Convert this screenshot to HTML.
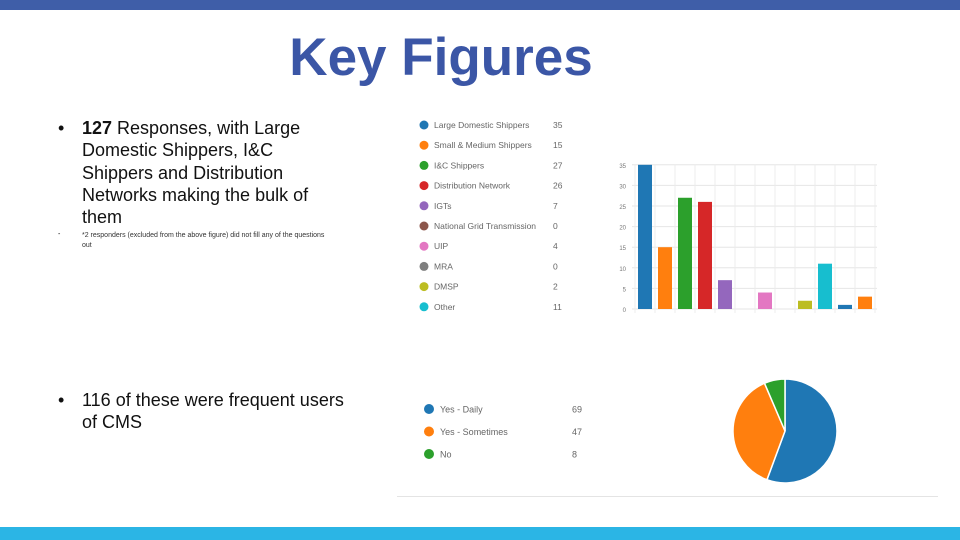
<!DOCTYPE html>
<html><head><meta charset="utf-8"><style>
body{margin:0;width:960px;height:540px;overflow:hidden;background:#fff;font-family:"Liberation Sans",sans-serif;position:relative}
.abs{position:absolute}
.bl{font-size:18px;color:#111;line-height:22.3px}
</style></head><body>
<div class="abs" style="left:0;top:0;width:960px;height:10px;background:#3f5ea8"></div>
<div class="abs" style="left:0;top:527px;width:960px;height:13px;background:#2bb5e5"></div>
<div class="abs" style="left:241px;top:27px;width:400px;text-align:center;font-size:53px;font-weight:bold;color:#3b56a6">Key Figures</div>
<div class="abs bl" style="left:58px;top:117px">•</div>
<div class="abs bl" style="left:82px;top:117px;width:250px"><b>127</b> Responses, with Large Domestic Shippers, I&amp;C Shippers and Distribution Networks making the bulk of them</div>
<div class="abs" style="left:82px;top:231px;width:250px;font-size:7px;color:#333;line-height:10px">*2 responders (excluded from the above figure) did not fill any of the questions out</div>
<div class="abs" style="left:58px;top:231px;font-size:7px">-</div>
<div class="abs bl" style="left:58px;top:389px">•</div>
<div class="abs bl" style="left:82px;top:389px;width:280px">116 of these were frequent users of CMS</div>
<div class="abs" style="left:397px;top:496px;width:541px;height:1px;background:#e4e4e4"></div>
<svg class="abs" style="left:0;top:0" width="960" height="540">
<g id="leg1"></g><g id="bars"></g><g id="leg2"></g><g id="pie"></g>
</svg>
<script>
const cats=["Large Domestic Shippers","Small & Medium Shippers","I&C Shippers","Distribution Network","IGTs","National Grid Transmission","UIP","MRA","DMSP","Other"];
const vals=[35,15,27,26,7,0,4,0,2,11];
const barVals=[35,15,27,26,7,0,4,0,2,11,1,3];
const barColors=["#1f77b4","#ff7f0e","#2ca02c","#d62728","#9467bd","#8c564b","#e377c2","#7f7f7f","#bcbd22","#17becf","#1f77b4","#ff7f0e"];
const yTicks=[0,5,10,15,20,25,30,35];
const pieCats=["Yes - Daily","Yes - Sometimes","No"];
const pieVals=[69,47,8];
const pieColors=["#1f77b4","#ff7f0e","#2ca02c"];
const NS="http://www.w3.org/2000/svg";
function mk(p,t,a){const e=document.createElementNS(NS,t);for(const k in a)e.setAttribute(k,a[k]);p.appendChild(e);return e;}
const L1=document.getElementById('leg1');
cats.forEach((c,i)=>{const y=125+20.2*i;
 const d=mk(L1,'circle',{cx:424,cy:y,r:4.5,fill:barColors[i]});
 
 
 const t=mk(L1,'text',{x:434,y:y+3,'font-size':8.5,fill:'#666','font-family':'Liberation Sans, sans-serif'});t.textContent=c;
 
 
 const v=mk(L1,'text',{x:553,y:y+3,'font-size':8.5,fill:'#666','font-family':'Liberation Sans, sans-serif'});v.textContent=vals[i];
 
 
});
const B=document.getElementById('bars');
const y0=309,k=4.12,x0=638,step=20,bw=14;
const ys=v=>y0-v*k;
yTicks.forEach(t=>{mk(B,'line',{x1:632,x2:877,y1:ys(t),y2:ys(t),stroke:'#e6e6e6'});
 const tx=mk(B,'text',{x:626,y:ys(t)+3,'font-size':6,fill:'#777','text-anchor':'end','font-family':'Liberation Sans, sans-serif'});tx.textContent=t;
 
 });
for(let i=0;i<=barVals.length;i++){const x=x0-3+i*step;mk(B,'line',{x1:x,x2:x,y1:ys(35),y2:y0+4,stroke:'#ececec'});}
barVals.forEach((v,i)=>{const r=mk(B,'rect',{x:x0+i*step,y:ys(v),width:bw,height:v*k,fill:barColors[i]});
 
 });
const L2=document.getElementById('leg2');
pieCats.forEach((c,i)=>{const y=409+22.5*i;
 const d=mk(L2,'circle',{cx:429,cy:y,r:5,fill:pieColors[i]});
 
 
 const t=mk(L2,'text',{x:440,y:y+3.5,'font-size':9,fill:'#666','font-family':'Liberation Sans, sans-serif'});t.textContent=c;
 
 
 const v=mk(L2,'text',{x:572,y:y+3.5,'font-size':9,fill:'#666','font-family':'Liberation Sans, sans-serif'});v.textContent=pieVals[i];
 
 });
const P=document.getElementById('pie');
const cx=785,cy=431,R=52,tot=pieVals.reduce((a,b)=>a+b,0);let a=0;
pieVals.forEach((v,i)=>{const a1=a+v/tot*2*Math.PI;
 const p=(t)=>[cx+R*Math.sin(t),cy-R*Math.cos(t)];const [x1,y1]=p(a),[x2,y2]=p(a1);
 const s=mk(P,'path',{d:`M${cx},${cy}L${x1},${y1}A${R},${R} 0 ${a1-a>Math.PI?1:0} 1 ${x2},${y2}Z`,fill:pieColors[i],stroke:'#fff','stroke-width':1.5});
 
 
 a=a1;});
</script>
</body></html>
